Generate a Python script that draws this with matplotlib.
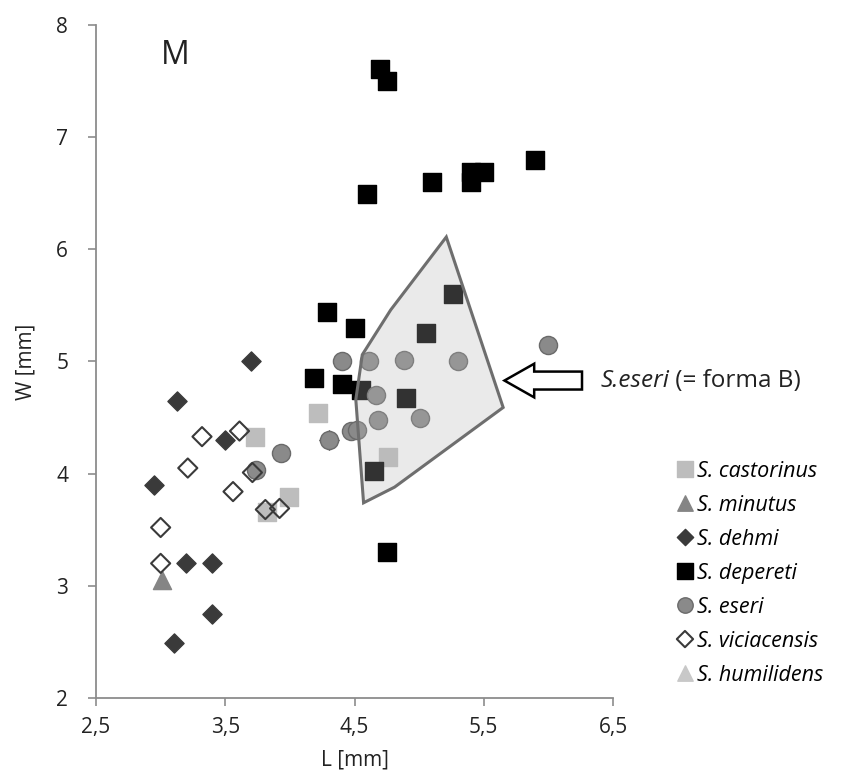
import matplotlib
matplotlib.use("Agg")
import matplotlib.pyplot as plt
from matplotlib.patches import Polygon, FancyArrow

# data (L, W in mm)
castorinus_L = [3.73, 4.22, 3.99, 3.82, 4.76]
castorinus_W = [4.33, 4.54, 3.79, 3.66, 4.15]

minutus_L = [3.01]
minutus_W = [3.05]

dehmi_L = [3.70, 3.13, 3.50, 2.95, 4.30, 3.20, 3.40, 3.40, 3.10]
dehmi_W = [5.00, 4.65, 4.30, 3.90, 4.30, 3.20, 3.20, 2.75, 2.49]

depereti_L = [4.70, 4.75, 4.60, 5.10, 5.40, 5.50, 5.40, 5.90, 4.29,
              4.50, 4.19, 4.40, 4.55, 5.26, 5.05, 4.90, 4.65, 4.75]
depereti_W = [7.61, 7.50, 6.49, 6.60, 6.69, 6.69, 6.60, 6.80, 5.44,
              5.30, 4.85, 4.80, 4.75, 5.60, 5.25, 4.67, 4.02, 3.30]

eseri_L = [4.40, 4.61, 4.88, 5.30, 6.00, 4.67, 4.68, 5.01, 4.47, 4.52, 3.93, 4.30, 3.74]
eseri_W = [5.00, 5.00, 5.01, 5.00, 5.15, 4.70, 4.48, 4.50, 4.38, 4.39, 4.18, 4.30, 4.03]

viciacensis_L = [3.32, 3.61, 3.21, 3.56, 3.71, 3.81, 3.92, 3.00, 3.00]
viciacensis_W = [4.33, 4.38, 4.05, 3.84, 4.01, 3.68, 3.69, 3.52, 3.20]

humilidens_L = []
humilidens_W = []

# outline of the "forma B" region
formaB_L = [5.21, 5.65, 4.81, 4.57, 4.51, 4.56, 4.78]
formaB_W = [6.11, 4.59, 3.88, 3.74, 4.66, 5.06, 5.46]

x_ticks = [2.5, 3.5, 4.5, 5.5, 6.5]
x_ticklabels = ["2,5", "3,5", "4,5", "5,5", "6,5"]
y_ticks = [2, 3, 4, 5, 6, 7, 8]

plt.rcParams["font.family"] = ["Open Sans", "DejaVu Sans"]

fig = plt.figure(figsize=(8.43, 7.71), dpi=100)
ax = fig.add_axes([0.1139, 0.0947, 0.6133, 0.8729])

axis_col = "#8c8c8c"
txt_col = "#222222"
ax.scatter(castorinus_L, castorinus_W, marker="s", s=175, color="#bdbdbd",
           label="S. castorinus", zorder=2)
ax.scatter(minutus_L, minutus_W, marker="^", s=170, color="#858585",
           label="S. minutus", zorder=2)
ax.scatter(dehmi_L, dehmi_W, marker="D", s=95, color="#3a3a3a",
           label="S. dehmi", zorder=2)
ax.scatter(depereti_L, depereti_W, marker="s", s=185, color="#000000",
           label="S. depereti", zorder=2)
ax.scatter(eseri_L, eseri_W, marker="o", s=170, color="#8a8a8a",
           edgecolors="#6a6a6a", linewidths=1, label="S. eseri", zorder=2)
ax.scatter(viciacensis_L, viciacensis_W, marker="D", s=95, facecolors="none",
           edgecolors="#3a3a3a", linewidths=1.5, label="S. viciacensis", zorder=2)
ax.scatter(humilidens_L, humilidens_W, marker="^", s=170, color="#c8c8c8",
           label="S. humilidens", zorder=2)

pts = list(zip(formaB_L, formaB_W))
ax.add_patch(Polygon(pts, closed=True, facecolor="#b6b6b6", alpha=0.28,
                     edgecolor="none", zorder=3))
ax.add_patch(Polygon(pts, closed=True, facecolor="none", edgecolor="#6e6e6e",
                     linewidth=2.2, zorder=4))

# open arrow pointing at the region
arr = FancyArrow(6.26, 4.83, -0.60, 0, width=0.16, head_width=0.30,
                 head_length=0.23, length_includes_head=True,
                 facecolor="white", edgecolor="black", linewidth=1.8,
                 clip_on=False, zorder=5)
ax.add_patch(arr)

t1 = ax.text(6.40, 4.83, "S.eseri", fontsize=17.5, style="italic",
             ha="left", va="center", color=txt_col)
ax.annotate(" (= forma B)", xy=(1, 0), xycoords=t1, va="bottom", ha="left",
            fontsize=17.5, color=txt_col)

ax.text(3.11, 7.73, "M", fontsize=23, ha="center", va="center", color=txt_col)

ax.set_xlim(2.5, 6.5)
ax.set_ylim(2, 8)
ax.set_xticks(x_ticks)
ax.set_xticklabels(x_ticklabels)
ax.set_yticks(y_ticks)
ax.set_xlabel("L [mm]", fontsize=15, color=txt_col, labelpad=8)
ax.set_ylabel("W [mm]", fontsize=15, color=txt_col, labelpad=14)

for side in ["top", "right"]:
    ax.spines[side].set_visible(False)
for side in ["left", "bottom"]:
    ax.spines[side].set_color(axis_col)
    ax.spines[side].set_linewidth(1.3)
ax.tick_params(axis="both", colors=axis_col, labelcolor=txt_col,
               labelsize=15, length=6, width=1.2)
ax.tick_params(axis="y", pad=14)
ax.tick_params(axis="x", pad=8)

fig.legend(loc="upper left", bbox_to_anchor=(0.787, 0.416), frameon=False,
           prop={"style": "italic", "size": 15.5}, handletextpad=0.05,
           handlelength=1.0, labelspacing=0.6, borderpad=0, markerscale=0.85,
           scatteryoffsets=[0.5])

fig.savefig("out.png", dpi=100)
